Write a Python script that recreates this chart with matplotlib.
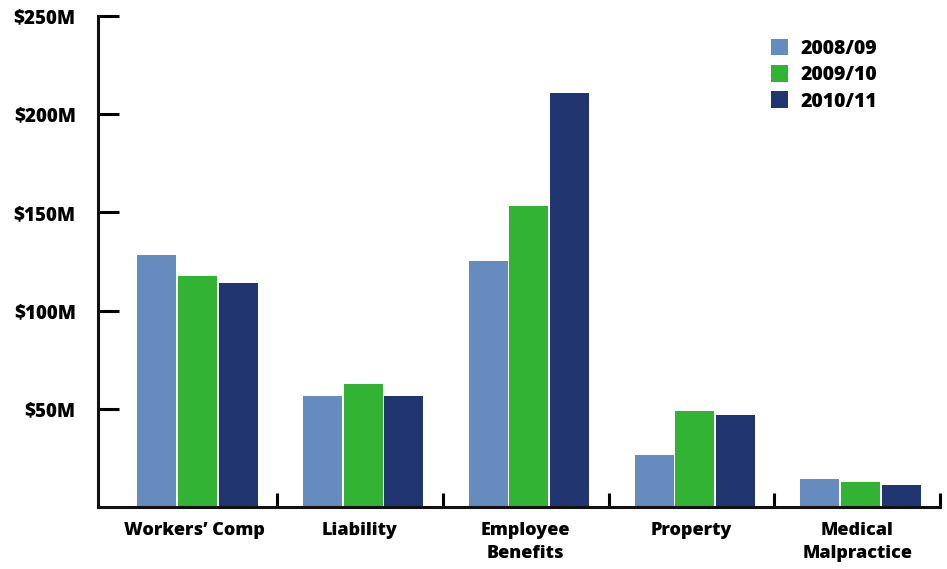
import numpy as np
import matplotlib
matplotlib.use('Agg')
import matplotlib.pyplot as plt
from matplotlib.patches import Patch

# Insurance costs by category, in $M
categories = ['Workers\u2019 Comp', 'Liability', 'Employee\nBenefits', 'Property', 'Medical\nMalpractice']
years = ['2008/09', '2009/10', '2010/11']
costs_0809 = [128.5, 56.5, 125.5, 26.5, 14.5]
costs_0910 = [117.5, 62.5, 153.5, 49.0, 12.5]
costs_1011 = [114.0, 56.5, 211.0, 47.0, 11.0]
yticks = [50, 100, 150, 200, 250]
ytick_labels = ['$50M', '$100M', '$150M', '$200M', '$250M']

colors = ['#668BBE', '#33B333', '#213570']

plt.rcParams['font.family'] = ['Open Sans', 'DejaVu Sans']
plt.rcParams['font.weight'] = 'heavy'

fig = plt.figure(figsize=(9.47, 5.69), dpi=100)
ax = fig.add_axes([98 / 947, 1 - 507 / 569, (940 - 98) / 947, (507 - 16) / 569])

x = np.arange(len(categories))
width = 0.235
step = 0.245
for i, (vals, col) in enumerate(zip([costs_0809, costs_0910, costs_1011], colors)):
    ax.bar(x + (i - 1) * step, vals, width=width, color=col, edgecolor='none', zorder=2)

ax.set_xlim(-0.6, 4.48)
ax.set_ylim(0, 250)

# y axis
ax.set_yticks(yticks)
ax.set_yticklabels(ytick_labels)
ax.tick_params(axis='y', direction='in', length=15, width=2.2, pad=16, labelsize=13.5)

# x axis: labels at group centres, tick marks at category boundaries
ax.set_xticks(x - 0.02)
ax.set_xticklabels(categories, linespacing=1.45)
ax.tick_params(axis='x', which='major', length=0, pad=11, labelsize=13)
ax.set_xticks(x + 0.48, minor=True)
ax.tick_params(axis='x', which='minor', direction='in', length=10, width=2.2)

for side in ['top', 'right']:
    ax.spines[side].set_visible(False)
for side in ['left', 'bottom']:
    ax.spines[side].set_linewidth(2.2)
    ax.spines[side].set_color('#111111')

handles = [Patch(facecolor=c, edgecolor='none') for c in colors]
ax.legend(handles, years, loc='upper left', bbox_to_anchor=(0.79, 0.97), frameon=False,
          fontsize=14, handlelength=0.9, handleheight=0.95, handletextpad=0.6,
          labelspacing=0.33, borderaxespad=0)

fig.savefig('out.png', dpi=100)
